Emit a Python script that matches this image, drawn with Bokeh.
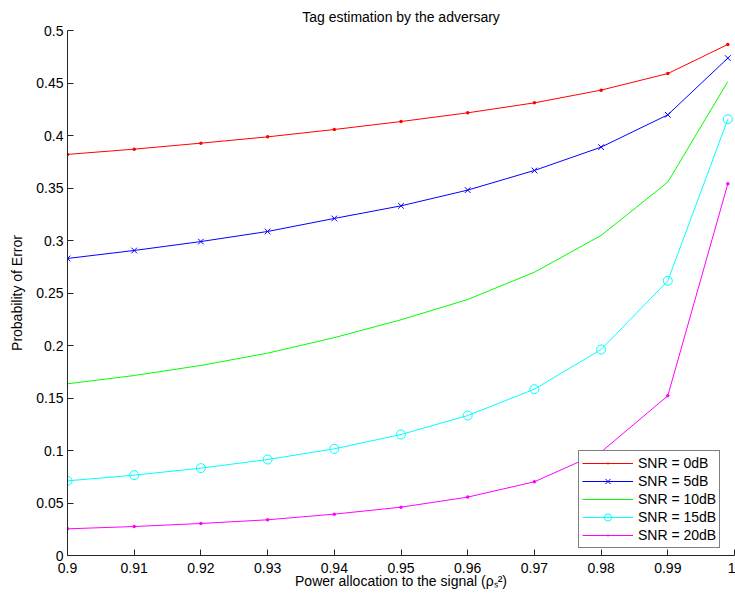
from bokeh.plotting import figure
from bokeh.models import FixedTicker, Legend, LegendItem, Range1d
from bokeh.embed import file_html
from bokeh.resources import INLINE

# ---- data ----
power = [0.90, 0.91, 0.92, 0.93, 0.94, 0.95, 0.96, 0.97, 0.98, 0.99, 0.999]
snr0 = [0.382, 0.387, 0.3927, 0.3987, 0.4057, 0.4133, 0.4216, 0.4311, 0.4432, 0.459, 0.4867]
snr5 = [0.2829, 0.2905, 0.299, 0.3086, 0.321, 0.333, 0.348, 0.3667, 0.3889, 0.4197, 0.4737]
snr10 = [0.1635, 0.1714, 0.181, 0.1927, 0.2075, 0.2245, 0.2438, 0.2698, 0.3048, 0.3556, 0.4514]
snr15 = [0.0711, 0.0765, 0.0832, 0.0914, 0.1016, 0.1152, 0.1333, 0.1584, 0.1962, 0.2616, 0.4155]
snr20 = [0.0254, 0.0276, 0.0305, 0.034, 0.0394, 0.046, 0.0556, 0.0702, 0.0986, 0.1521, 0.354]

series_labels = ["SNR = 0dB", "SNR = 5dB", "SNR = 10dB", "SNR = 15dB", "SNR = 20dB"]
x_ticks = [0.9, 0.91, 0.92, 0.93, 0.94, 0.95, 0.96, 0.97, 0.98, 0.99, 1.0]
x_tick_labels = ["0.9", "0.91", "0.92", "0.93", "0.94", "0.95", "0.96", "0.97", "0.98", "0.99", "1"]
y_ticks = [0, 0.05, 0.1, 0.15, 0.2, 0.25, 0.3, 0.35, 0.4, 0.45, 0.5]
y_tick_labels = ["0", "0.05", "0.1", "0.15", "0.2", "0.25", "0.3", "0.35", "0.4", "0.45", "0.5"]

FONT = "Liberation Sans"

p = figure(width=735, height=596, output_backend="svg", toolbar_location=None,
           x_range=Range1d(0.9, 1.0), y_range=Range1d(0, 0.5),
           min_border_left=67, min_border_right=1, min_border_top=30, min_border_bottom=41)

p.title.text = "Tag estimation by the adversary"
p.title.align = "center"
p.title.text_font = FONT
p.title.text_font_size = "14px"
p.title.text_font_style = "normal"
p.title.text_color = "black"
p.title.standoff = 11

p.grid.visible = False
p.outline_line_color = None
p.background_fill_color = "white"
p.border_fill_color = "white"

for ax in (p.xaxis[0], p.yaxis[0]):
    ax.axis_line_color = "#262626"
    ax.major_tick_line_color = "#262626"
    ax.major_tick_in = 6
    ax.major_tick_out = 0
    ax.minor_tick_line_color = None
    ax.major_label_text_font = FONT
    ax.major_label_text_font_size = "14px"
    ax.major_label_text_color = "black"
    ax.axis_label_text_font = FONT
    ax.axis_label_text_font_size = "14px"
    ax.axis_label_text_font_style = "normal"
    ax.axis_label_text_color = "black"

p.xaxis[0].ticker = FixedTicker(ticks=x_ticks)
p.xaxis[0].major_label_overrides = dict(zip(x_ticks, x_tick_labels))
p.yaxis[0].ticker = FixedTicker(ticks=y_ticks)
p.yaxis[0].major_label_overrides = dict(zip(y_ticks, y_tick_labels))
p.xaxis[0].major_label_standoff = 7
p.yaxis[0].major_label_standoff = 4
p.xaxis[0].axis_label = "Power allocation to the signal (\u03c1\u209b\u00b2)"
p.yaxis[0].axis_label = "Probability of Error"
p.xaxis[0].axis_label_standoff = -3
p.yaxis[0].axis_label_standoff = 8

items = []
l0 = p.line(power, snr0, line_color="#ff0000", line_width=1)
m0 = p.scatter(power, snr0, marker="dot", size=14, fill_color="#ff0000", line_color="#ff0000")
items.append(LegendItem(label=series_labels[0], renderers=[l0, m0]))

l1 = p.line(power, snr5, line_color="#0000ff", line_width=1)
m1 = p.scatter(power, snr5, marker="x", size=8, line_color="#0000ff", line_width=1)
items.append(LegendItem(label=series_labels[1], renderers=[l1, m1]))

l2 = p.line(power, snr10, line_color="#00ff00", line_width=1)
items.append(LegendItem(label=series_labels[2], renderers=[l2]))

l3 = p.line(power, snr15, line_color="#00ffff", line_width=1)
m3 = p.scatter(power, snr15, marker="circle", size=9, fill_color=None, line_color="#00ffff", line_width=1)
items.append(LegendItem(label=series_labels[3], renderers=[l3, m3]))

l4 = p.line(power, snr20, line_color="#ff00ff", line_width=1)
m4 = p.scatter(power, snr20, marker="dot", size=14, fill_color="#ff00ff", line_color="#ff00ff")
items.append(LegendItem(label=series_labels[4], renderers=[l4, m4]))

legend = Legend(items=items, location=(511, 7))
legend.label_text_font = FONT
legend.label_text_font_size = "14px"
legend.label_text_color = "black"
legend.glyph_width = 51
legend.glyph_height = 18
legend.label_height = 18
legend.label_standoff = 5
legend.spacing = 0
legend.padding = 3
legend.margin = 0
legend.border_line_color = "black"
legend.border_line_width = 1
legend.background_fill_color = "white"
legend.background_fill_alpha = 1
p.add_layout(legend)

open("out.html", "w").write(file_html(p, INLINE))
